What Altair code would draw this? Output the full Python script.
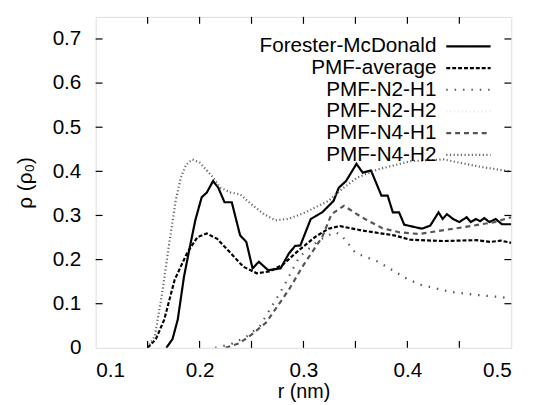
import altair as alt
import pandas as pd

# ---- data ----
series_names = ["Forester-McDonald", "PMF-average", "PMF-N2-H1", "PMF-N2-H2", "PMF-N4-H1", "PMF-N4-H2"]

fm_r = [0.168, 0.174, 0.179, 0.185, 0.190, 0.196, 0.202, 0.207, 0.213, 0.218, 0.224, 0.231, 0.239, 0.245,
        0.251, 0.257, 0.266, 0.278, 0.286, 0.292, 0.297, 0.307, 0.318, 0.329, 0.334, 0.341, 0.351, 0.357,
        0.365, 0.375, 0.381, 0.386, 0.392, 0.397, 0.414, 0.422, 0.430, 0.434, 0.438, 0.444, 0.450, 0.457,
        0.461, 0.466, 0.470, 0.474, 0.479, 0.485, 0.491, 0.500]
fm_y = [0.000, 0.020, 0.064, 0.161, 0.221, 0.290, 0.341, 0.352, 0.378, 0.363, 0.330, 0.330, 0.255, 0.240,
        0.180, 0.195, 0.176, 0.180, 0.214, 0.231, 0.232, 0.292, 0.307, 0.333, 0.363, 0.378, 0.417, 0.397,
        0.402, 0.345, 0.345, 0.307, 0.307, 0.279, 0.270, 0.277, 0.307, 0.292, 0.303, 0.292, 0.285, 0.296,
        0.285, 0.292, 0.287, 0.294, 0.285, 0.292, 0.280, 0.280]

avg_r = [0.150, 0.158, 0.166, 0.176, 0.188, 0.198, 0.207, 0.217, 0.229, 0.242, 0.255, 0.267, 0.280, 0.292,
         0.311, 0.324, 0.335, 0.356, 0.387, 0.403, 0.435, 0.466, 0.480, 0.490, 0.500]
avg_y = [0.000, 0.020, 0.064, 0.154, 0.215, 0.251, 0.259, 0.247, 0.217, 0.184, 0.169, 0.173, 0.188, 0.214,
         0.251, 0.270, 0.276, 0.266, 0.255, 0.245, 0.242, 0.244, 0.240, 0.243, 0.238]

n2h1_r = [0.215, 0.230, 0.245, 0.258, 0.280, 0.296, 0.315, 0.330, 0.335, 0.342, 0.350, 0.372, 0.400, 0.413,
          0.441, 0.466, 0.490, 0.500]
n2h1_y = [0.000, 0.008, 0.025, 0.049, 0.135, 0.206, 0.244, 0.262, 0.258, 0.240, 0.215, 0.195, 0.156, 0.143,
          0.127, 0.120, 0.115, 0.112]

n4h1_r = [0.225, 0.238, 0.250, 0.264, 0.286, 0.299, 0.318, 0.327, 0.339, 0.356, 0.376, 0.392, 0.411, 0.436,
          0.461, 0.484, 0.500]
n4h1_y = [0.000, 0.010, 0.030, 0.057, 0.132, 0.184, 0.251, 0.303, 0.322, 0.296, 0.271, 0.262, 0.258, 0.267,
          0.276, 0.285, 0.296]

n4h2_r = [0.150, 0.157, 0.164, 0.171, 0.177, 0.182, 0.187, 0.193, 0.200, 0.212, 0.220, 0.230, 0.239, 0.250,
          0.262, 0.273, 0.285, 0.300, 0.324, 0.337, 0.352, 0.371, 0.403, 0.435, 0.466, 0.498]
n4h2_y = [0.000, 0.027, 0.124, 0.240, 0.333, 0.386, 0.415, 0.427, 0.420, 0.389, 0.363, 0.352, 0.348, 0.325,
          0.303, 0.289, 0.292, 0.305, 0.333, 0.360, 0.386, 0.404, 0.423, 0.427, 0.412, 0.400]

x_ticks = [0.15, 0.2, 0.25, 0.3, 0.35, 0.4, 0.45]
y_ticks = [0.1, 0.2, 0.3, 0.4, 0.5, 0.6, 0.7]
x_labels = [0.1, 0.2, 0.3, 0.4, 0.5]
y_labels = [0, 0.1, 0.2, 0.3, 0.4, 0.5, 0.6, 0.7]

# ---- styles ----
colors = ["#000000", "#000000", "#555555", "#e6e6e6", "#555555", "#666666"]
dashes = [[1, 0], [4, 2], [1.5, 7], [1, 3], [5, 4], [1.2, 2.5]]
widths = [2.2, 2.2, 1.3, 1.0, 0.9, 0.9]

W, H = 422, 336
FONT = "Liberation Sans"
FS = 21

rows = []
for name, rs, ys in [("Forester-McDonald", fm_r, fm_y), ("PMF-average", avg_r, avg_y),
                     ("PMF-N2-H1", n2h1_r, n2h1_y), ("PMF-N4-H1", n4h1_r, n4h1_y),
                     ("PMF-N4-H2", n4h2_r, n4h2_y)]:
    for i, (r, y) in enumerate(zip(rs, ys)):
        rows.append({"series": name, "r": r, "rho": y, "order": i})
df = pd.DataFrame(rows)

xs = alt.Scale(domain=[0.1, 0.5], nice=False, zero=False)
ys = alt.Scale(domain=[0, 0.75], nice=False)
x_axis = alt.Axis(values=x_labels, labelExpr="datum.value == 0 ? '0' : format(datum.value, '.1f')",
                  ticks=False, domain=False, grid=False, labelFontSize=FS, labelFont=FONT, labelColor="black",
                  labelPadding=12, title="r (nm)", titleFont=FONT, titleFontSize=20, titleFontWeight="normal",
                  titleColor="black", titlePadding=1)
y_axis = alt.Axis(values=y_labels, labelExpr="datum.value == 0 ? '0' : format(datum.value, '.1f')",
                  ticks=False, domain=False, grid=False, labelFontSize=FS, labelFont=FONT, labelColor="black",
                  labelPadding=15, title="ρ (ρ₀)", titleFont=FONT, titleFontSize=21, titleFontWeight="normal",
                  titleColor="black", titlePadding=17)

color_enc = alt.Color("series:N", scale=alt.Scale(domain=series_names, range=colors), legend=None)
dash_enc = alt.StrokeDash("series:N", scale=alt.Scale(domain=series_names, range=dashes), legend=None)
width_enc = alt.StrokeWidth("series:N", scale=alt.Scale(domain=series_names, range=widths), legend=None)

lines = alt.Chart(df).mark_line(clip=True).encode(
    x=alt.X("r:Q", scale=xs, axis=x_axis),
    y=alt.Y("rho:Q", scale=ys, axis=y_axis),
    order="order:Q",
    detail="series:N",
    color=color_enc, strokeDash=dash_enc, strokeWidth=width_enc,
)

xt = pd.DataFrame({"r": x_ticks})
yt = pd.DataFrame({"rho": y_ticks})
TL = 7
xtick_b = alt.Chart(xt).mark_rule(color="black", strokeWidth=1.2).encode(
    x=alt.X("r:Q", scale=xs, axis=x_axis), y=alt.value(H), y2=alt.value(H - TL))
xtick_t = alt.Chart(xt).mark_rule(color="black", strokeWidth=1.2).encode(
    x=alt.X("r:Q", scale=xs, axis=x_axis), y=alt.value(0), y2=alt.value(TL))
ytick_l = alt.Chart(yt).mark_rule(color="black", strokeWidth=1.2).encode(
    y=alt.Y("rho:Q", scale=ys, axis=y_axis), x=alt.value(0), x2=alt.value(TL))
ytick_r = alt.Chart(yt).mark_rule(color="black", strokeWidth=1.2).encode(
    y=alt.Y("rho:Q", scale=ys, axis=y_axis), x=alt.value(W), x2=alt.value(W - TL))

leg = pd.DataFrame({"series": series_names, "idx": list(range(len(series_names)))})
leg_base = alt.Chart(leg).transform_calculate(py="30 + datum.idx * 22")
leg_text = leg_base.mark_text(align="right", baseline="middle", font=FONT, fontSize=FS, color="black").encode(
    x=alt.value(346), y=alt.Y("py:Q", scale=None), text="series:N")
leg_line = leg_base.mark_rule().encode(
    x=alt.value(356), x2=alt.value(401), y=alt.Y("py:Q", scale=None),
    color=color_enc, strokeDash=dash_enc, strokeWidth=width_enc)

chart = alt.layer(lines, xtick_b, xtick_t, ytick_l, ytick_r, leg_line, leg_text).properties(
    width=W, height=H,
    autosize=alt.AutoSizeParams(type="none"),
    padding={"left": 89, "top": 6, "right": 19, "bottom": 55},
).configure_view(stroke="black", strokeWidth=1.5).configure(background="white")

chart.save("out.html", embed_options={"renderer": "svg", "actions": False})
